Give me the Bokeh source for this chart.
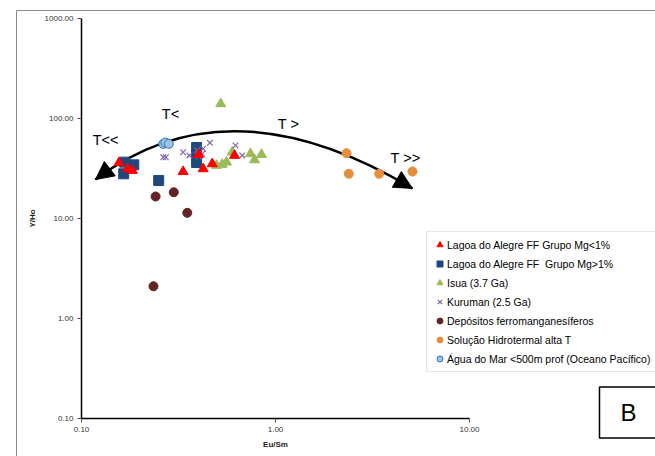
from bokeh.plotting import figure
from bokeh.models import (FixedTicker, PrintfTickFormatter, Legend, LegendItem,
                          Label, Arrow, NormalHead, BoxAnnotation)
from bokeh.embed import file_html
from bokeh.resources import INLINE
from bokeh.core.properties import value

# ---------------- data (Eu/Sm , Y/Ho) ----------------
lagoa_lt1_x = [0.156, 0.173, 0.183, 0.334, 0.402, 0.424, 0.472, 0.615]
lagoa_lt1_y = [36.1, 31.4, 30.2, 29.4, 43.5, 31.4, 35.2, 42.7]

lagoa_gt1_x = [0.167, 0.186, 0.165, 0.250, 0.392, 0.392, 0.392]
lagoa_gt1_y = [36.6, 34.4, 28.0, 24.0, 51.3, 42.7, 36.3]

isua_x = [0.522, 0.497, 0.531, 0.559, 0.598, 0.743, 0.780, 0.847]
isua_y = [140.3, 33.9, 34.7, 36.6, 46.0, 44.4, 38.6, 43.6]

kuruman_x = [0.264, 0.272, 0.334, 0.360, 0.395, 0.401, 0.419, 0.424, 0.459, 0.622, 0.674]
kuruman_y = [41.0, 41.0, 46.0, 42.7, 47.9, 41.7, 44.4, 49.8, 57.1, 53.7, 42.7]

ferroman_x = [0.235, 0.241, 0.299, 0.351]
ferroman_y = [2.10, 16.6, 18.3, 11.4]

hidro_x = [2.323, 2.387, 3.423, 5.084]
hidro_y = [45.0, 28.0, 28.0, 29.5]

mar_x = [0.264, 0.271, 0.282]
mar_y = [55.8, 57.5, 55.8]

series_labels = [
    "Lagoa do Alegre FF Grupo Mg<1%",
    "Lagoa do Alegre FF  Grupo Mg>1%",
    "Isua (3.7 Ga)",
    "Kuruman (2.5 Ga)",
    "Depósitos ferromanganesíferos",
    "Solução Hidrotermal alta T",
    "Água do Mar <500m prof (Oceano Pacífico)",
]

x_ticks = [0.1, 1, 10]
y_ticks = [0.1, 1, 10, 100, 1000]

# temperature trend arrow (start, control, end) and its annotations
arrow_x = [0.118, 0.5725, 5.08]
arrow_y = [24.5, 251.2, 20.0]
head_back_x = [0.1298, 4.59]
head_back_y = [28.2, 22.4]
note_x = [0.133, 0.2877, 1.167, 4.68]
note_y = [60.3, 112.2, 87.1, 40.7]
note_text = ["T<<", "T<", "T >", "T >>"]

# ---------------- figure ----------------
# the frame fills the whole canvas; axes are pinned at 0.1 with fixed_location
p = figure(width=655, height=456, x_axis_type="log", y_axis_type="log",
           x_range=(10 ** -1.41753, 10 ** 1.95876), y_range=(10 ** -1.38, 10 ** 3.18),
           output_backend="svg", toolbar_location=None,
           min_border_left=0, min_border_right=0,
           min_border_top=0, min_border_bottom=0)
p.grid.visible = False
p.outline_line_color = None
p.background_fill_color = "white"
p.border_fill_color = "white"

# outer chart-area border (grey)
p.add_layout(BoxAnnotation(left=10 ** -1.335, right=1000, top=10 ** 3.08, bottom=0.001,
                           fill_alpha=0, line_color="#8c8c8c", line_alpha=1,
                           line_width=1, level="underlay"))

for ax, ticks, lab in ((p.xaxis[0], x_ticks, "Eu/Sm"), (p.yaxis[0], y_ticks, "Y/Ho")):
    ax.fixed_location = 0.1
    ax.bounds = (ticks[0], ticks[-1])
    ax.ticker = FixedTicker(ticks=ticks, minor_ticks=[])
    ax.formatter = PrintfTickFormatter(format="%.2f")
    ax.axis_line_color = "black"
    ax.axis_line_width = 1.5
    ax.major_tick_line_color = "#555555"
    ax.major_tick_out = 4
    ax.major_tick_in = 0
    ax.minor_tick_line_color = None
    ax.major_label_text_font = "Liberation Sans"
    ax.major_label_text_font_size = "8px"
    ax.major_label_text_color = "#333333"
    ax.major_label_standoff = 4
    ax.axis_label = lab
    ax.axis_label_text_font = "Liberation Sans"
    ax.axis_label_text_font_size = "8px"
    ax.axis_label_text_font_style = "bold"
    ax.axis_label_text_color = "#222222"
    ax.axis_label_standoff = 5

# trend curve with heads
p.quadratic(x0=[arrow_x[0]], y0=[arrow_y[0]], cx=[arrow_x[1]], cy=[arrow_y[1]],
            x1=[arrow_x[2]], y1=[arrow_y[2]], line_color="black", line_width=2.5)
p.add_layout(Arrow(end=NormalHead(size=18, fill_color="black", line_color="black"),
                   x_start=head_back_x[0], y_start=head_back_y[0],
                   x_end=arrow_x[0], y_end=arrow_y[0], line_width=2.5, line_color="black"))
p.add_layout(Arrow(end=NormalHead(size=18, fill_color="black", line_color="black"),
                   x_start=head_back_x[1], y_start=head_back_y[1],
                   x_end=arrow_x[2], y_end=arrow_y[2], line_width=2.5, line_color="black"))

p.text(x=note_x, y=note_y, text=note_text, text_font=value("Liberation Sans"),
       text_font_size="14.5px", text_align="center", text_baseline="middle",
       text_color="black")

# series
r_mar = p.scatter(mar_x, mar_y, marker="circle", size=9, fill_color="#9dc3e6",
                  line_color="#2e75b6", line_width=1)
r_ferro = p.scatter(ferroman_x, ferroman_y, marker="circle", size=9,
                    fill_color="#632523", line_color="#632523")
r_hidro = p.scatter(hidro_x, hidro_y, marker="circle", size=9,
                    fill_color="#e48e3e", line_color="#e48e3e")
r_isua = p.scatter(isua_x, isua_y, marker="triangle", size=10,
                   fill_color="#9bbb59", line_color="#9bbb59")
r_gt1 = p.scatter(lagoa_gt1_x, lagoa_gt1_y, marker="square", size=10,
                  fill_color="#1f497d", line_color="#1f497d")
r_kur = p.scatter(kuruman_x, kuruman_y, marker="x", size=8,
                  line_color="#8064a2", line_width=1.2)
r_lt1 = p.scatter(lagoa_lt1_x, lagoa_lt1_y, marker="triangle", size=10,
                  fill_color="#ff0000", line_color="#ff0000")

renderers = [r_lt1, r_gt1, r_isua, r_kur, r_ferro, r_hidro, r_mar]
legend = Legend(items=[LegendItem(label=l, renderers=[r]) for l, r in zip(series_labels, renderers)],
                location=(426, 84), orientation="vertical")
legend.label_text_font = "Liberation Sans"
legend.label_text_font_size = "10.5px"
legend.label_text_color = "black"
legend.glyph_width = 15
legend.glyph_height = 15
legend.label_height = 15
legend.label_standoff = -3
legend.spacing = 4
legend.padding = 5
legend.margin = 0
legend.border_line_color = "#d0d0d0"
legend.border_line_width = 1
legend.background_fill_color = "white"
legend.background_fill_alpha = 1
p.add_layout(legend)

# panel tag
tag = Label(x=628, y=44, x_units="screen", y_units="screen", text="B",
            text_font="Liberation Sans", text_font_size="24px", text_color="black",
            text_align="center", text_baseline="middle",
            border_line_color="black", border_line_width=1.5,
            background_fill_color="white",
            padding=dict(left=21, right=21, top=12, bottom=12))
p.add_layout(tag)

open("out.html", "w").write(file_html(p, INLINE))
